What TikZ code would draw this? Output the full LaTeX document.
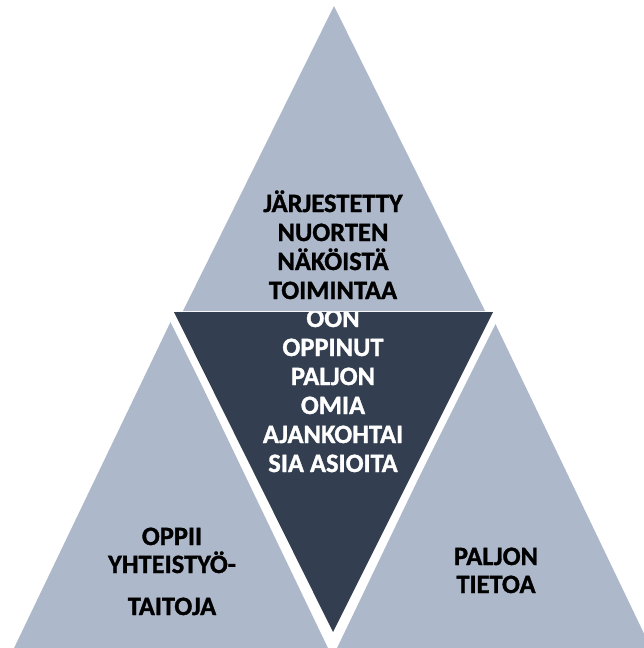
\documentclass[tikz,border=0pt]{standalone}
\usepackage{fontspec}
\setmainfont{Carlito}
\newfontfamily\lblfont{Carlito Bold}[FakeBold=1.2]
\definecolor{paleslate}{HTML}{ADB9CA}
\definecolor{deepslate}{HTML}{333F50}
\begin{document}
\begin{tikzpicture}[x=1pt,y=-1pt,
  light/.style={fill=paleslate},
  dark/.style={fill=deepslate},
  gapline/.style={draw=white,line width=15pt,line join=miter},
  lbl/.style={font=\lblfont\fontsize{26.5}{30}\selectfont,inner sep=0pt,anchor=base},
  lbldark/.style={lbl,text=white},
]
\useasboundingbox[fill=white] (0,0) rectangle (644,648);
\begin{scope}
  \clip (0,0) rectangle (644,648);
  % lower left and lower right triangles
  \fill[light] (171,321) -- (333.7,660) -- (8.3,660) -- cycle;
  \fill[light] (494,321) -- (656.7,660) -- (331.3,660) -- cycle;
  % inverted centre triangle with its white margin
  \draw[gapline] (174,312) -- (493,312) -- (333,632) -- cycle;
  \fill[dark] (174,312) -- (493,312) -- (333,632) -- cycle;
  \node[lbldark] (d1) at (333,327) {OON};
  \node[lbldark] (d2) at (333,356) {OPPINUT};
  \node[lbldark] (d3) at (333,385) {PALJON};
  \node[lbldark] (d4) at (333,414) {OMIA};
  \node[lbldark] (d5) at (333,443) {AJANKOHTAI};
  \node[lbldark] (d6) at (333,472) {SIA ASIOITA};
  % top triangle
  \fill[light] (334,6) -- (485,311) -- (183,311) -- cycle;
\end{scope}
\node[lbl] (t1) at (333,212) {JÄRJESTETTY};
\node[lbl] (t2) at (333,241) {NUORTEN};
\node[lbl] (t3) at (333,270) {NÄKÖISTÄ};
\node[lbl] (t4) at (333,299) {TOIMINTAA};
\node[lbl] (l1) at (172,545) {OPPII};
\node[lbl] (l2) at (172,573) {YHTEISTYÖ-};
\node[lbl] (l3) at (172,615) {TAITOJA};
\node[lbl] (r1) at (496,565) {PALJON};
\node[lbl] (r2) at (496,593) {TIETOA};
\end{tikzpicture}
\end{document}
